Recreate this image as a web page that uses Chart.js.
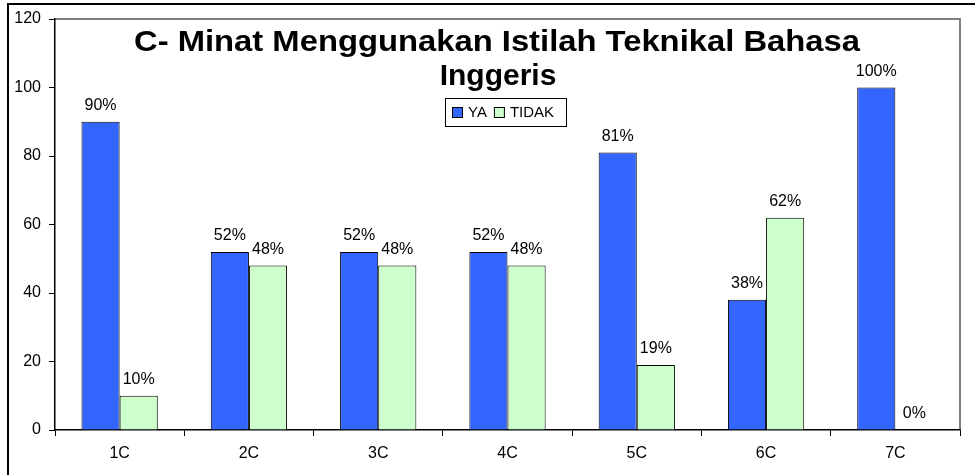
<!DOCTYPE html>
<html><head><meta charset="utf-8">
<script src="https://cdn.jsdelivr.net/npm/chart.js@4"></script>
<style>html,body{margin:0;padding:0;background:#fff;}#wrap{width:975px;height:475px;}</style>
</head><body><div id="wrap"><canvas id="c" width="975" height="475"></canvas></div>
<script>
const categories = ['1C','2C','3C','4C','5C','6C','7C'];
const seriesNames = ['YA','TIDAK'];
const yaValues = [90,52,52,52,81,38,100];
const tidakValues = [10,48,48,48,19,62,0];
const yTicks = [0,20,40,60,80,100,120];
const titleLines = ['C- Minat Menggunakan Istilah Teknikal Bahasa','Inggeris'];
const FONT = 'Arial, "Liberation Sans", sans-serif';

const deco = {
  id:'deco',
  beforeDraw(chart){
    const ctx = chart.ctx;
    ctx.save();
    ctx.fillStyle='#fff'; ctx.fillRect(0,0,chart.width,chart.height);
    ctx.strokeStyle='#000'; ctx.lineWidth=2;
    ctx.beginPath(); ctx.moveTo(8,475); ctx.lineTo(8,4); ctx.lineTo(975,4); ctx.stroke();
    const a = chart.chartArea;
    ctx.strokeStyle='#808080'; ctx.lineWidth=2;
    ctx.beginPath(); ctx.moveTo(a.left,a.top); ctx.lineTo(a.right,a.top); ctx.lineTo(a.right,a.bottom); ctx.stroke();
    ctx.restore();
  },
  afterDraw(chart){
    const ctx = chart.ctx;
    ctx.save();
    // data labels
    ctx.font = '16px ' + FONT; ctx.fillStyle='#000'; ctx.textAlign='center'; ctx.textBaseline='alphabetic';
    chart.data.datasets.forEach((ds,i)=>{
      chart.getDatasetMeta(i).data.forEach((bar,j)=>{
        ctx.fillText(ds.data[j]+'%', bar.x, bar.y-12);
      });
    });
    // title
    ctx.font = 'bold 30px ' + FONT;
    const w0 = ctx.measureText(titleLines[0]).width;
    const sx = 726 / w0;
    ctx.save(); ctx.translate(497, 51); ctx.scale(sx, 1); ctx.fillText(titleLines[0], 0, 0); ctx.restore();
    ctx.fillText(titleLines[1], 498, 85);
    // legend
    const lx=445, ly=98, lw=121, lh=28;
    ctx.fillStyle='#fff'; ctx.fillRect(lx,ly,lw,lh);
    ctx.strokeStyle='#000'; ctx.lineWidth=1; ctx.strokeRect(lx+0.5,ly+0.5,lw,lh);
    ctx.font='15px '+FONT; ctx.textAlign='left'; ctx.textBaseline='middle';
    const cols=['#3366FF','#CCFFCC'];
    let x=lx+7;
    seriesNames.forEach((n,i)=>{
      ctx.fillStyle=cols[i]; ctx.fillRect(x+0.5,ly+9.5,10,10);
      ctx.strokeStyle='#000'; ctx.strokeRect(x+0.5,ly+9.5,10,10);
      ctx.fillStyle='#000'; ctx.fillText(n, x+16, ly+15);
      x += 16 + ctx.measureText(n).width + 7;
    });
    ctx.restore();
  }
};

new Chart(document.getElementById('c'), {
  type:'bar',
  data:{
    labels:categories,
    datasets:[
      {label:seriesNames[0], data:yaValues, backgroundColor:'#3366FF', borderColor:'#000', borderWidth:1},
      {label:seriesNames[1], data:tidakValues, backgroundColor:'#CCFFCC', borderColor:'#000', borderWidth:1}
    ]
  },
  options:{
    responsive:false, animation:false, devicePixelRatio:1,
    layout:{padding:{left:0,top:19,right:15,bottom:0}},
    datasets:{bar:{categoryPercentage:0.59, barPercentage:1}},
    plugins:{legend:{display:false}, title:{display:false}, tooltip:{enabled:false}},
    scales:{
      x:{
        grid:{display:true, drawOnChartArea:false, offset:true, color:'#000', tickLength:6, tickWidth:1},
        border:{display:true, color:'#000', width:1.5},
        ticks:{color:'#000', font:{family:FONT, size:16}, padding:8},
        afterFit(s){ s.height = 45; }
      },
      y:{
        min:0, max:120,
        afterBuildTicks(s){ s.ticks = yTicks.map(v=>({value:v})); },
        grid:{display:true, drawOnChartArea:false, color:'#000', tickLength:6, tickWidth:1},
        border:{display:true, color:'#000', width:1.5},
        ticks:{color:'#000', font:{family:FONT, size:16}, padding:8},
        afterFit(s){ s.width = 55; }
      }
    }
  },
  plugins:[deco]
});
</script></body></html>
